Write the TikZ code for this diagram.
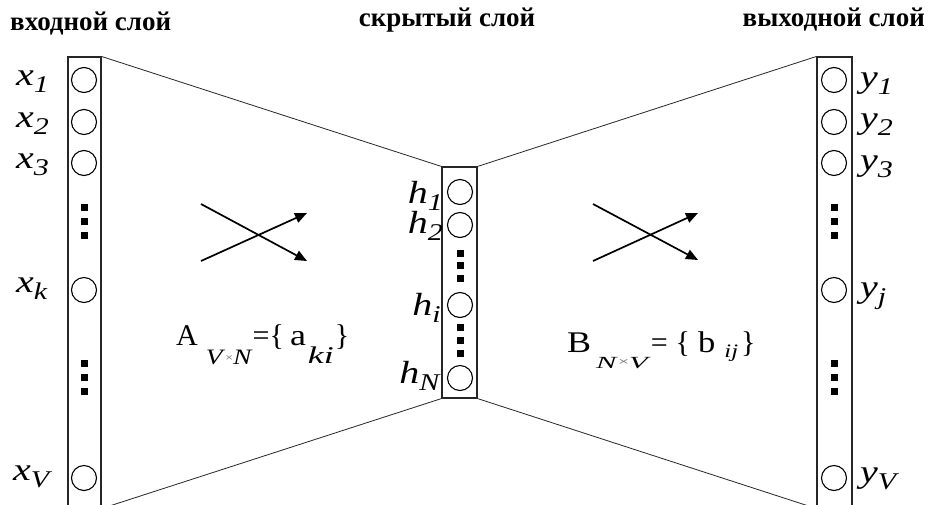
\documentclass[tikz,border=0pt]{standalone}
\usepackage{fontspec}
\usepackage{graphicx}
\setmainfont{Liberation Serif}
\usetikzlibrary{arrows.meta}
\newcommand{\lab}[2]{\scalebox{1.25}[1]{\fontsize{32}{32}\selectfont\textit{#1}\raisebox{-7pt}{\fontsize{24}{24}\selectfont\textit{#2}}}}
\newcommand{\subs}[4]{\raisebox{#1}{\scalebox{#2}[1]{\fontsize{#3}{#3}\selectfont #4}}}
\newcommand{\tms}{{\fontsize{11}{11}\selectfont\raisebox{0.2em}{\color{black!60}×}}}
\tikzset{
  layerbox/.style={draw=black!85, line width=1.1pt, inner sep=0pt},
  neuron/.style={circle, draw=black, line width=1.1pt, minimum size=25pt, inner sep=0pt},
  dotsq/.style={fill=black, minimum size=7pt, inner sep=0pt},
  funnel/.style={draw=black!85, line width=0.8pt},
  cross/.style={line width=1.7pt, -{Triangle[length=12pt,width=10pt]}},
  heading/.style={font=\bfseries\fontsize{27}{27}\selectfont, inner sep=0pt},
  lbl/.style={inner sep=0pt}
}
\begin{document}
\begin{tikzpicture}[x=1pt,y=-1pt]
\useasboundingbox (0,0) rectangle (929,504);
% layer boxes
\node[layerbox, minimum width=33pt, minimum height=451pt] (inbox) at (84.5,282.5) {};
\node[layerbox, minimum width=35pt, minimum height=231pt] (hidbox) at (459.5,282.5) {};
\node[layerbox, minimum width=35pt, minimum height=451pt] (outbox) at (834.5,282.5) {};
% funnel lines
\draw[funnel] (inbox.north east) -- (hidbox.north west);
\draw[funnel] (inbox.south east) -- (hidbox.south west);
\draw[funnel] (hidbox.north east) -- (outbox.north west);
\draw[funnel] (hidbox.south east) -- (outbox.south west);
% headings
\node[heading, anchor=base west] (hin) at (10,30) {входной слой};
\node[heading, anchor=base] (hhid) at (447,26) {скрытый слой};
\node[heading, anchor=base east] (hout) at (925,26) {выходной слой};
% input neurons
\node[neuron] (x1) at (84,80) {};
\node[neuron] (x2) at (84,122) {};
\node[neuron] (x3) at (84,163) {};
\node[neuron] (xk) at (84,290) {};
\node[neuron] (xV) at (84,478) {};
\foreach \y [count=\i] in {207,221,235,363,377,391} \node[dotsq] (xd\i) at (84,\y) {};
% hidden neurons
\node[neuron] (h1) at (460,192) {};
\node[neuron] (h2) at (460,225) {};
\node[neuron] (hi) at (460,305) {};
\node[neuron] (hN) at (460,378) {};
\foreach \y [count=\i] in {253,265,278,327,340,353} \node[dotsq] (hd\i) at (460,\y) {};
% output neurons
\node[neuron] (y1) at (834,80) {};
\node[neuron] (y2) at (834,122) {};
\node[neuron] (y3) at (834,163) {};
\node[neuron] (yj) at (834,290) {};
\node[neuron] (yV) at (834,478) {};
\foreach \y [count=\i] in {207,221,235,363,377,391} \node[dotsq] (yd\i) at (834,\y) {};
% input labels
\node[lbl, anchor=base west] (lx1) at (16,85) {\lab{x}{1}};
\node[lbl, anchor=base west] (lx2) at (16,127) {\lab{x}{2}};
\node[lbl, anchor=base west] (lx3) at (16,168) {\lab{x}{3}};
\node[lbl, anchor=base west] (lxk) at (16,292) {\lab{x}{k}};
\node[lbl, anchor=base west] (lxV) at (13,480) {\lab{x}{V}};
% hidden labels
\node[lbl, anchor=base east] (lh1) at (443,203) {\lab{h}{1}};
\node[lbl, anchor=base east] (lh2) at (443,233) {\lab{h}{2}};
\node[lbl, anchor=base east] (lhi) at (441,315) {\lab{h}{i}};
\node[lbl, anchor=base east] (lhN) at (441,383) {\lab{h}{N}};
% output labels
\node[lbl, anchor=base west] (ly1) at (860,87) {\lab{y}{1}};
\node[lbl, anchor=base west] (ly2) at (860,128) {\lab{y}{2}};
\node[lbl, anchor=base west] (ly3) at (860,170) {\lab{y}{3}};
\node[lbl, anchor=base west] (lyj) at (860,297) {\lab{y}{j}};
\node[lbl, anchor=base west] (lyV) at (860,482) {\lab{y}{V}};
% weight matrices
\node[lbl, anchor=base west, font=\fontsize{30}{30}\selectfont] (matA) at (176,345)
  {A\kern8pt\subs{-19pt}{1.25}{22}{\textit{V}\tms\textit{N}}\kern0pt=\{\kern6pt \scalebox{1.2}[1]{a}\kern2pt\subs{-18pt}{1.5}{24}{\textit{ki}}\kern1pt\}};
\node[lbl, anchor=base west, font=\fontsize{30}{30}\selectfont] (matB) at (567,352)
  {\scalebox{1.2}[1]{B}\kern5pt\subs{-16pt}{1.8}{17}{\textit{N}\tms\textit{V}}\kern0pt=\kern8pt\{\kern8pt \scalebox{1.15}[1]{b}\kern9pt\subs{-5pt}{1.3}{19}{\textit{ij}}\kern3pt\}};
% crossing arrows
\coordinate (a1s) at (201,204); \coordinate (a1e) at (307,261);
\coordinate (a2s) at (201,261); \coordinate (a2e) at (307,213);
\draw[cross] (a1s) -- (a1e);
\draw[cross] (a2s) -- (a2e);
\coordinate (b1s) at (593,204); \coordinate (b1e) at (698,260);
\coordinate (b2s) at (593,261); \coordinate (b2e) at (698,213);
\draw[cross] (b1s) -- (b1e);
\draw[cross] (b2s) -- (b2e);
\end{tikzpicture}
\end{document}
